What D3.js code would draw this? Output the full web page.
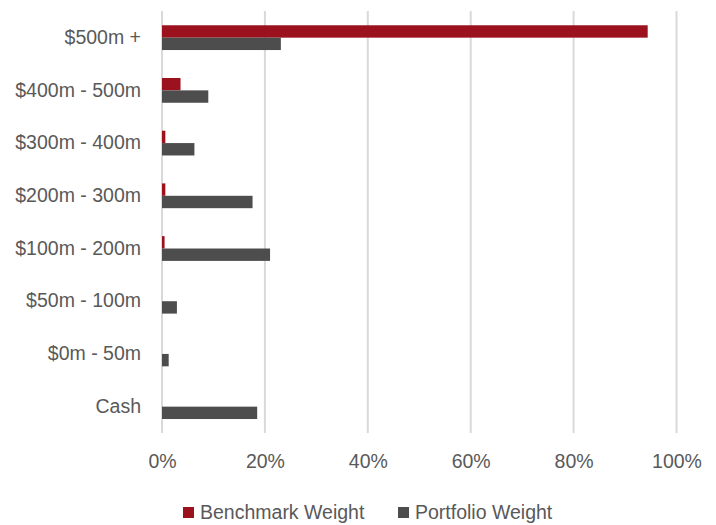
<!DOCTYPE html>
<html>
<head>
<meta charset="utf-8">
<script src="https://cdn.jsdelivr.net/npm/d3@7"></script>
<style>
    body { margin: 0; background: #fff; }
    text { font-family: "Liberation Sans", Arial, sans-serif; fill: #595959; }
</style>
</head>
<body>
<svg id="chart" width="716" height="525"></svg>
<script>
// size bands, top to bottom
let categories = ["$500m +", "$400m - 500m", "$300m - 400m", "$200m - 300m", "$100m - 200m", "$50m - 100m", "$0m - 50m", "Cash"];
let series = ["Benchmark Weight", "Portfolio Weight"];
let benchmark = [0.944, 0.036, 0.0065, 0.0065, 0.005, 0, 0, 0];
let portfolio = [0.231, 0.090, 0.063, 0.176, 0.210, 0.029, 0.013, 0.185];
let ticks = [0, 0.2, 0.4, 0.6, 0.8, 1.0];
let colors = ["#9b111e", "#4d4d4d"];

let svg = d3.select("#chart");

let x = d3.scaleLinear().domain([0, 1]).range([162, 676.5]);
let y = d3.scaleBand().domain(categories).range([11.3, 433]).paddingInner(0.53).paddingOuter(0.265);
let ySub = d3.scaleBand().domain(series).range([0, y.bandwidth()]);

// gridlines
svg.append("g")
    .selectAll("line")
    .data(ticks)
    .enter().append("line")
    .attr("x1", d => x(d)).attr("x2", d => x(d))
    .attr("y1", 11).attr("y2", 433)
    .attr("stroke", "#d9d9d9")
    .attr("stroke-width", 2)

// x axis labels
let xAxis = svg.append("g")
    .attr("transform", "translate(0,451)")
    .call(d3.axisBottom(x).tickValues(ticks).tickFormat(d3.format(".0%")).tickSize(0))
xAxis.select(".domain").remove()
xAxis.selectAll("text").style("font-size", "19.5px").attr("dy", "0.71em")

// y labels
let yAxis = svg.append("g")
    .attr("transform", "translate(141,0)")
    .call(d3.axisLeft(y).tickSize(0).tickPadding(0))
yAxis.select(".domain").remove()
yAxis.selectAll("text").style("font-size", "19.5px")

// bars
let rows = categories.map((c, i) => ({cat: c, values: [benchmark[i], portfolio[i]]}))
let groups = svg.append("g").selectAll("g")
    .data(rows)
    .enter().append("g")
    .attr("transform", d => `translate(0,${y(d.cat)})`)

groups.selectAll("rect")
    .data(d => d.values.map((v, j) => ({series: series[j], value: v, color: colors[j]})))
    .enter().append("rect")
    .filter(d => d.value > 0)
    .attr("x", x(0))
    .attr("y", d => ySub(d.series))
    .attr("width", d => x(d.value) - x(0))
    .attr("height", ySub.bandwidth())
    .attr("fill", d => d.color)

// legend
let legendX = [183, 398]
let legend = svg.append("g").selectAll("g")
    .data(series)
    .enter().append("g")
    .attr("transform", (d, i) => `translate(${legendX[i]},507)`)
legend.append("rect")
    .attr("width", 11).attr("height", 11)
    .attr("fill", (d, i) => colors[i])
legend.append("text")
    .attr("x", 17).attr("y", 5.5)
    .attr("dy", "0.35em")
    .style("font-size", "19.5px")
    .text(d => d)
</script>
</body>
</html>
